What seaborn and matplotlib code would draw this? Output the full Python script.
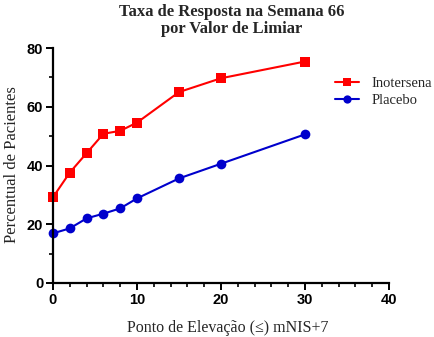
import matplotlib
matplotlib.use("Agg")
import matplotlib.pyplot as plt
from matplotlib.ticker import MultipleLocator
import seaborn as sns
import pandas as pd

thresholds = [0, 2, 4, 6, 8, 10, 15, 20, 30]
inotersena = [29.2, 37.6, 44.2, 50.8, 51.8, 54.6, 65.0, 69.7, 75.4]
placebo = [16.9, 18.6, 22.0, 23.6, 25.4, 28.8, 35.6, 40.6, 50.6]
series_names = ["Inotersena", "Placebo"]

df = pd.DataFrame({
    "x": thresholds * 2,
    "y": inotersena + placebo,
    "grupo": [series_names[0]] * len(thresholds) + [series_names[1]] * len(thresholds),
})

sns.set_style("ticks")
serif = ["Liberation Serif", "DejaVu Serif"]
sans = ["Liberation Sans", "DejaVu Sans"]

W, H = 435, 337
fig = plt.figure(figsize=(W / 100, H / 100), dpi=100)
ax = fig.add_axes([53 / W, 1 - 283 / H, (389 - 53) / W, (283 - 48) / H])

sns.lineplot(
    data=df, x="x", y="y", hue="grupo", style="grupo",
    palette={"Inotersena": "#FF0000", "Placebo": "#0000CC"},
    markers={"Inotersena": "s", "Placebo": "o"},
    dashes=False, markersize=7, markeredgewidth=0, linewidth=1.5,
    ax=ax, clip_on=False,
)

ax.set_xlim(0, 40)
ax.set_ylim(0, 80)
ax.xaxis.set_major_locator(MultipleLocator(10))
ax.xaxis.set_minor_locator(MultipleLocator(2))
ax.yaxis.set_major_locator(MultipleLocator(20))
ax.yaxis.set_minor_locator(MultipleLocator(10))

for s in ["top", "right"]:
    ax.spines[s].set_visible(False)
for s in ["left", "bottom"]:
    ax.spines[s].set_linewidth(1.6)
    ax.spines[s].set_color("black")

ax.tick_params(which="major", length=5, width=1.4, direction="out", pad=2, colors="black")
ax.tick_params(which="minor", length=3, width=1.2, direction="out", colors="black")
for lab in ax.get_xticklabels() + ax.get_yticklabels():
    lab.set_fontfamily(sans)
    lab.set_fontweight("bold")
    lab.set_fontsize(10.5)

ax.set_xlabel("Ponto de Elevação (≤) mNIS+7", fontfamily=serif, fontsize=11.5, va="center")
ax.xaxis.set_label_coords((228 - 53) / 336, (283 - 328) / 235)
ax.set_ylabel("Percentual de Pacientes", fontfamily=serif, fontsize=12, va="center")
ax.yaxis.set_label_coords((12 - 53) / 336, (283 - 165) / 235)

leg = ax.legend(
    loc="center left", bbox_to_anchor=((335 - 53) / 336, (283 - 92) / 235), frameon=False,
    prop={"family": serif, "size": 10.5}, handlelength=1.65, handletextpad=0.85,
    labelspacing=0.3, borderaxespad=0, borderpad=0, markerscale=0.85,
)

fig.text(232 / W, 1 - 4 / H, "Taxa de Resposta na Semana 66\npor Valor de Limiar",
         ha="center", va="top", fontfamily=serif, fontweight="bold", fontsize=12,
         linespacing=1.1)

fig.savefig("out.png", dpi=100)
